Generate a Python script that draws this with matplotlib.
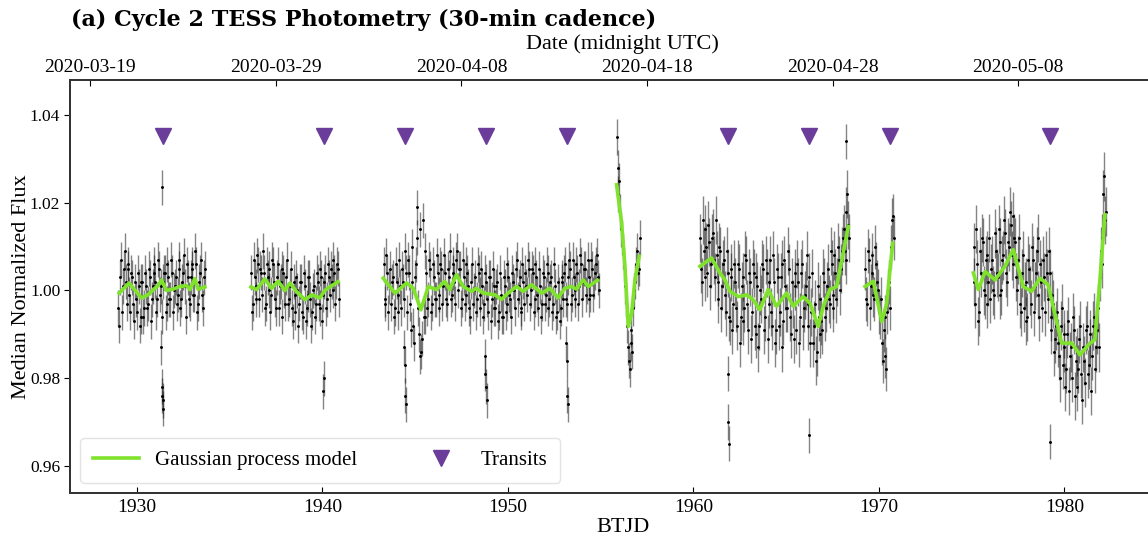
import numpy as np
import matplotlib
matplotlib.use("Agg")
import matplotlib.pyplot as plt

plt.rcParams["font.family"] = ["Liberation Serif", "DejaVu Serif"]

# flux values in ppt relative to 1, sampled evenly between segment start/end (BTJD)
# "a" lists sit on the grid, "b" lists half a cadence later
seg_bounds = [
    (1929.0, 1933.6), (1936.15, 1940.85), (1943.3, 1954.85), (1955.86, 1957.06),
    (1960.35, 1968.35), (1969.25, 1970.75), (1975.1, 1982.2),
]
seg_err = [4.0, 4.0, 4.0, 4.0, 5.5, 5.0, 5.5]

s1a = [-4, 3, -5, 5, 2, 6, -1, 4, -3, 2, -5, 1, -6, 2, -4, 1, -3, 3, -2, 4,
       2, -2, 5, 1, 2, 4, -3, 3, -2, 4, 0, 3, -1, 5, -2, 4, 1, 6, -2, 3,
       5, -1, 6, -3, 4, -1, 3]
s1b = [-8, 7, 1, 9, -3, 5, -5, 3, -7, -2, 4, -8, 2, -6, 4, -4, 5, -7, 1, 6,
       -5, 7, -1, -6, 4, -5, 6, -2, 7, -5, 1, -3, 7, -4, 2, 8, -6, 3, -3, 6,
       -1, 9, -5, 2, 7, -4, 5]
s2a = [4, -3, 3, -2, 6, 5, -1, 4, -3, 3, 5, -1, 6, -2, 3, -4, 2, 5, 0, 3,
       -3, 1, -4, 2, -5, 0, -3, 2, -6, 1, -4, 3, -2, -5, 1, -3, 2, -4, 3, -1,
       4, -2, 3, 5, 0, 4, 2, 5]
s2b = [-5, 7, 1, 8, -2, 4, 9, -4, 6, 0, -5, 7, 2, -4, 6, 1, -6, 4, -3, 7,
       -2, 5, -7, -1, 3, -8, 2, -5, 4, -7, -1, 3, -8, 0, -6, 4, -3, 5, -7, 2,
       -4, 6, -1, 2, 7, -3, 6, -2]
s3a = [6, -2, 4, 1, -3, 3, -4, 2, -5, 1,
       5, -2, 4, 7, -3, 2, -8, 3, 12, -10,
       -14, 16, -6, 4, -2, 5, -3, 3, -2, 4,
       -1, 5, 1, 4, -3, 3, -2, 6, 2, 7,
       0, 5, -2, 3, -1, 4, -4, 2, -3, 3,
       -2, 4, -4, 1, -3, 2, -5, 3, -2, 1,
       -4, 2, -5, -1, -6, 1, -3, 3, -2, 4,
       0, 5, -2, 3, -4, 2, 4, -1, 5, 0,
       4, -2, 3, -4, 1, -3, 3, -1, 4, -2,
       3, -3, 1, -5, -1, -4, 2, 4, -2, 3,
       5, -1, 3, -2, 4, 1, 6, 2, 5, 1,
       3, -1, 5, 2, 6, 3]
s3b = [-3, 8, -5, 5, 2, -6, 6, -1, 7, -4,
       2, 9, -5, 4, -9, 10, -12, 6, -4, 14,
       -11, -6, 9, -4, 7, -5, 6, -2, 8, -4,
       6, -3, 8, -2, 5, 9, -1, 4, -3, 9,
       5, -4, 7, -3, 6, 1, -6, 6, 0, -5,
       6, -1, 5, -6, 4, -2, 3, -7, 5, -4,
       1, -7, 4, -6, 3, -5, 6, -1, -6, 2,
       -4, 7, 1, -5, 6, -3, 1, 7, -3, 5,
       -5, 6, -1, 5, -6, 4, -3, 6, -4, 2,
       -5, 6, -6, 2, -7, 3, -2, 6, -3, 7,
       -3, 7, 0, 6, -3, 8, -2, 5, -1, 7,
       -2, 7, -1, 4, 8, 0]
s4a = [35, 22, 18, 12, 6, -2, -13, -18, -9, -4, 2, 9, 5]
s4b = [28, 25, 14, 9, 1, -8, -16, -12, -14, 0, 6, 4, 12]
s5a = [12, 2, 9, 14, 4, 11, 6, 13, 3, 8,
       -2, 9, 1, 7, -5, 4, -7, 5, -3, 2,
       -8, 5, -6, 3, -4, 7, -9, 2, -5, 4,
       -10, 1, -8, -2, 5, -6, 4, -3, 7, -8,
       2, -9, 3, -5, 6, -7, 1, -4, 5, -10,
       -3, 4, -9, 2, -6, 6, -4, 1, -8, 3,
       -5, -12, -3, -14, -6, -2, -9, 2, -4, 5,
       -3, 6, -1, 4, 2, 7, 5, 12, 9, 18,
       15]
s5b = [5, 16, 3, 10, 15, 1, 12, 7, 16, 2,
       10, -4, 6, -1, 9, -6, 3, -9, 6, -4,
       6, -12, 1, -7, 8, -3, 4, -11, 6, -8,
       3, -13, 0, 6, -9, 7, -11, 2, -5, 8,
       -12, 5, -8, 3, -13, 7, -4, 9, -6, 2,
       -11, 1, 6, -12, 4, -8, -1, 8, -3, -12,
       4, -8, -16, 1, -10, -7, 4, -6, 1, -2,
       9, -4, 8, -2, 10, 0, 9, 14, 7, 22,
       12]
s6a = [5, -3, 7, 1, 4, -2, 6, 0, -6, -12, -9, -15, -5, 2, 10, 17]
s6b = [-2, 9, -4, 8, -1, 10, 2, -5, -2, -16, -6, -18, 0, -4, 16, 12]
s7a = [10, -3, 6, -5, 4, 11, -1, 8, 2, -2,
       7, -1, 9, 3, 11, 0, 8, 13, 2, 10,
       15, 6, 12, 3, 7, -3, 4, -4, 2, -6,
       5, -3, 7, 1, 9, -1, 6, -4, 3, 8,
       -2, 4, -6, -3, -11, -5, -15, -8, -17, -10,
       -18, -7, -15, -20, -9, -16, -22, -11, -19, -13,
       -21, -8, -17, -10, -15, -6, -13, -4, 3, 12,
       22, 16]
s7b = [2, 14, -7, 9, 12, 0, 7, -3, 12, 5,
       0, 13, 4, 14, -1, 7, 16, 4, 11, 18,
       8, 17, 11, 0, 12, -5, 8, 1, -7, 7,
       0, 10, -5, 4, 12, -6, 2, 7, -5, 4,
       9, -9, -1, -14, -8, -12, -20, -4, -13, -22,
       -10, -23, -13, -6, -24, -14, -18, -8, -25, -16,
       -9, -19, -12, -23, -8, -18, -9, -13, 9, 6,
       26, 18]
seg_flux_a = [s1a, s2a, s3a, s4a, s5a, s6a, s7a]
seg_flux_b = [s1b, s2b, s3b, s4b, s5b, s6b, s7b]

# in-transit / outlying points
out_t = [1931.30, 1931.35, 1931.38, 1931.40, 1931.43, 1931.37, 1940.05, 1940.10,
         1944.40, 1944.45, 1944.48, 1944.52, 1948.75, 1948.78, 1948.82, 1948.85,
         1953.13, 1953.16, 1953.20, 1953.23, 1961.85, 1961.88, 1961.92, 1966.25,
         1979.20, 1968.20, 1945.10, 1945.25]
out_f = [-13, -22, -24, -27, -25, 23.5, -23, -20, -13, -17, -24, -26, -15, -19,
         -22, -25, -12, -16, -24, -26, -19, -30, -35, -33, -34.5, 34, 19, -15]

# Gaussian process model, read per segment
gp_t = [
    [1929.05, 1929.58, 1930.25, 1930.6, 1930.97, 1931.15, 1931.33, 1931.6, 1931.96,
     1932.32, 1932.68, 1932.86, 1933.13, 1933.3, 1933.67],
    [1936.15, 1936.45, 1936.9, 1937.26, 1937.62, 1937.98, 1938.25, 1938.6, 1939.06,
     1939.42, 1939.87, 1940.13, 1940.4, 1940.85],
    [1943.28, 1943.91, 1944.54, 1944.9, 1945.31, 1945.71, 1946.15, 1946.6, 1946.87,
     1947.23, 1947.59, 1948.04, 1948.31, 1948.67, 1949.3, 1949.66, 1950.02, 1950.47,
     1950.82, 1951.28, 1951.82, 1952.26, 1952.71, 1953.07, 1953.43, 1953.7, 1954.06,
     1954.33, 1954.83],
    [1955.86, 1956.13, 1956.31, 1956.49, 1956.67, 1956.85, 1957.08],
    [1960.35, 1960.98, 1961.43, 1961.7, 1961.97, 1962.42, 1962.87, 1963.22, 1963.58,
     1964.03, 1964.48, 1965.02, 1965.38, 1965.92, 1966.28, 1966.73, 1967.0, 1967.36,
     1967.72, 1968.35],
    [1969.25, 1969.7, 1970.15, 1970.42, 1970.74],
    [1975.09, 1975.36, 1975.72, 1976.26, 1976.79, 1977.24, 1977.78, 1978.23, 1978.68,
     1979.12, 1979.85, 1980.39, 1980.84, 1981.29, 1981.64, 1981.91, 1982.18],
]
gp_f = [
    [0.9994, 1.0017, 0.9983, 0.9990, 1.0005, 1.0011, 1.0024, 1.0000, 1.0003,
     1.0009, 1.0011, 1.0002, 1.0027, 1.0003, 1.0008],
    [1.0008, 1.0002, 1.0026, 1.0005, 1.0021, 1.0000, 1.0017, 0.9998, 0.9979,
     0.9990, 0.9983, 1.0000, 1.0008, 1.0020],
    [1.0028, 0.9994, 1.0017, 1.0005, 0.9956, 1.0009, 1.0002, 1.0021, 1.0002,
     1.0036, 1.0009, 0.9998, 1.0005, 0.9994, 0.9990, 0.9980, 0.9994, 1.0009,
     0.9998, 1.0013, 0.9994, 1.0005, 0.9983, 1.0005, 1.0009, 1.0003, 1.0024,
     1.0009, 1.0023],
    [1.0241, 1.0154, 1.0055, 0.9918, 0.9948, 1.0024, 1.0078],
    [1.0055, 1.0074, 1.0040, 1.0024, 0.9998, 0.9986, 0.9990, 0.9979, 0.9956,
     1.0002, 0.9964, 0.9994, 0.9964, 0.9986, 0.9971, 0.9918, 0.9964, 1.0002,
     1.0009, 1.0146],
    [1.0009, 1.0021, 0.9929, 0.9971, 1.0108],
    [1.0040, 1.0002, 1.0043, 1.0024, 1.0055, 1.0093, 1.0009, 0.9998, 1.0028,
     1.0013, 0.9880, 0.9880, 0.9853, 0.9876, 0.9888, 1.0024, 1.0173],
]

transits = [1931.40, 1940.08, 1944.45, 1948.81, 1953.18, 1961.86, 1966.23, 1970.59, 1979.22]
transit_level = 1.0352

date_ticks = [1927.5, 1937.5, 1947.5, 1957.5, 1967.5, 1977.5]
date_labels = ["2020-03-19", "2020-03-29", "2020-04-08", "2020-04-18", "2020-04-28", "2020-05-08"]

fig = plt.figure(figsize=(11.48, 5.36), dpi=100)
ax = fig.add_axes([0.061, 0.0802, 0.9632, 0.7705])

bar_kw = dict(fmt=".", color="k", ms=2.2, ecolor=(0.12, 0.12, 0.12, 0.55),
              elinewidth=1.0, capsize=0, zorder=2)
for (t0, t1), va, vb, err in zip(seg_bounds, seg_flux_a, seg_flux_b, seg_err):
    t = np.linspace(t0, t1, len(va))
    half = (t[1] - t[0]) / 2
    ax.errorbar(t, 1 + np.array(va) / 1000.0, yerr=err / 1000.0, **bar_kw)
    ax.errorbar(t + half, 1 + np.array(vb) / 1000.0, yerr=err / 1000.0, **bar_kw)

ax.errorbar(out_t, 1 + np.array(out_f) / 1000.0, yerr=0.004, **bar_kw)

for i, (tt, ff) in enumerate(zip(gp_t, gp_f)):
    ax.plot(tt, ff, color="#7ee32a", lw=2.6, zorder=3,
            label="Gaussian process model" if i == 0 else None)

ax.plot(transits, [transit_level] * len(transits), "v", color="#6a3d9a", ms=11,
        ls="none", zorder=4, label="Transits")

ax.set_xlim(1926.4, 1986.0)
ax.set_ylim(0.9538, 1.048)
ax.set_yticks([0.96, 0.98, 1.00, 1.02, 1.04])
ax.set_yticklabels(["0.96", "0.98", "1.00", "1.02", "1.04"])
ax.set_xticks([1930, 1940, 1950, 1960, 1970, 1980])
ax.tick_params(axis="x", direction="in", length=4, labelsize=14, pad=4)
ax.tick_params(axis="y", direction="out", length=4, labelsize=12.5, pad=3)
ax.set_xlabel("BTJD", fontsize=16, labelpad=2)
ax.set_ylabel("Median Normalized Flux", fontsize=16, labelpad=-0.5)
for s in ax.spines.values():
    s.set_color("#333333")
    s.set_linewidth(1.3)

top = ax.twiny()
top.set_xlim(ax.get_xlim())
top.set_xticks(date_ticks)
top.set_xticklabels(date_labels)
top.tick_params(axis="x", direction="in", length=4, labelsize=14, pad=3)
top.set_xlabel("Date (midnight UTC)", fontsize=16, labelpad=7)
for s in top.spines.values():
    s.set_color("#333333")
    s.set_linewidth(1.3)

leg = ax.legend(loc="lower left", ncol=2, fontsize=15, columnspacing=2.9,
                handlelength=2.2, frameon=True, borderaxespad=0.5, borderpad=0.6,
                bbox_to_anchor=(0.0, 0.0))
leg.get_frame().set_edgecolor("#dddddd")

fig.text(0.062, 0.962, "(a) Cycle 2 TESS Photometry (30-min cadence)",
         family="DejaVu Serif", weight="bold", fontsize=16, va="center", ha="left")

fig.savefig("out.png", dpi=100)
